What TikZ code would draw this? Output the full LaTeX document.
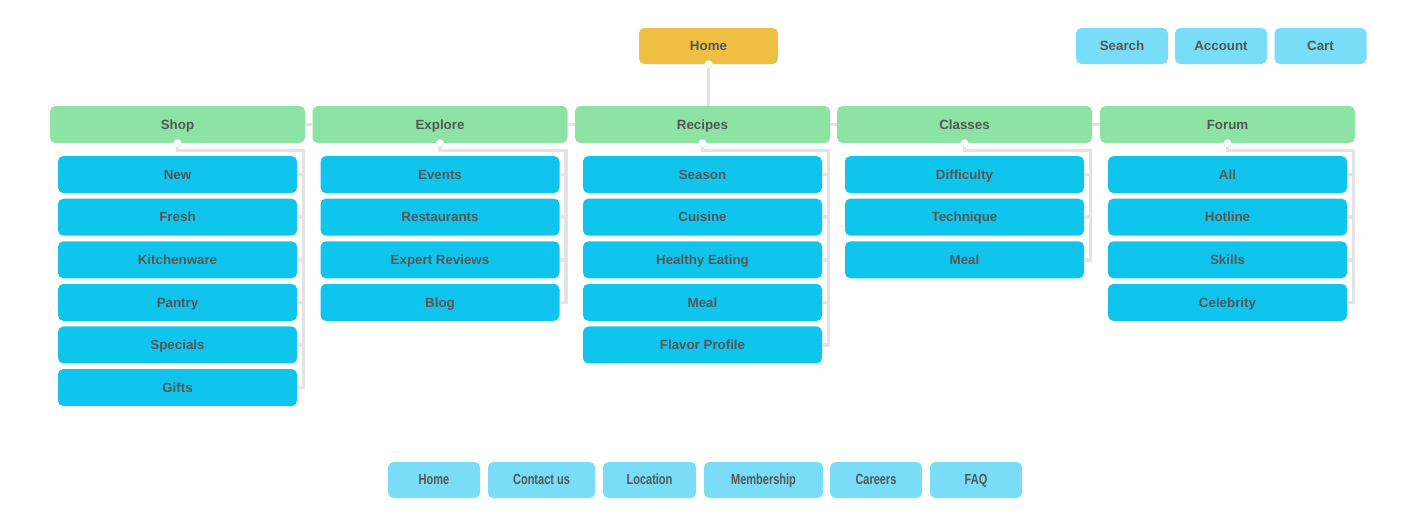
\documentclass[tikz,border=0pt]{standalone}
\usepackage{fontspec}
\setmainfont{Liberation Sans}
\newfontfamily\narrowsans[FakeStretch=0.75]{Liberation Sans}
\usepackage{xcolor}
\usepackage{tikz}
\usetikzlibrary{positioning}
\definecolor{homegold}{HTML}{EEBF42}
\definecolor{utilblue}{HTML}{7ADDF8}
\definecolor{catgreen}{HTML}{8DE3A3}
\definecolor{subcyan}{HTML}{10C5ED}
\definecolor{linegray}{HTML}{E3E3E3}
\definecolor{textgray}{HTML}{555555}

\begin{document}
\begin{tikzpicture}[
        x=0.75pt, y=-0.75pt,
        node distance=3.8pt,
        base/.style={
            rectangle,
            rounded corners=4pt,
            text=textgray,
            font=\fontsize{10}{12}\selectfont\bfseries,
            inner sep=0pt,
            text height=7.6pt,
            text depth=0.4pt,
            minimum height=27.75pt
        },
        homebox/.style={base, fill=homegold, minimum width=104.25pt, minimum height=27pt},
        utilbox/.style={base, fill=utilblue, minimum width=69pt, minimum height=27pt},
        footbox/.style={utilbox, font=\narrowsans\fontsize{11}{13}\selectfont\bfseries},
        catbox/.style={base, fill=catgreen, minimum width=191.25pt},
        subbox/.style={base, fill=subcyan, minimum width=179.25pt},
        link/.style={
            draw=linegray,
            line width=2.6pt
        },
        port/.style={
            circle,
            fill=white,
            draw=linegray,
            line width=0.4pt,
            inner sep=0pt,
            minimum size=6pt
        }
    ]
        \useasboundingbox (0,0) rectangle (1416,526);

        % Top row
        \node[homebox] (home) at (708.5,46) {Home};
        \node[utilbox] (search) at (1122,46) {Search};
        \node[utilbox] (account) at (1221,46) {Account};
        \node[utilbox] (cart) at (1320.5,46) {Cart};

        % Categories
        \node[catbox] (shop) at (177.5,124.5) {Shop};
        \node[catbox] (explore) at (440,124.5) {Explore};
        \node[catbox] (recipes) at (702.5,124.5) {Recipes};
        \node[catbox] (classes) at (964.5,124.5) {Classes};
        \node[catbox] (forum) at (1227.5,124.5) {Forum};

        % Shop
        \node[subbox, below=9.4pt of shop] (shop1) {New};
        \node[subbox, below=of shop1] (shop2) {Fresh};
        \node[subbox, below=of shop2] (shop3) {Kitchenware};
        \node[subbox, below=of shop3] (shop4) {Pantry};
        \node[subbox, below=of shop4] (shop5) {Specials};
        \node[subbox, below=of shop5] (shop6) {Gifts};

        % Explore
        \node[subbox, below=9.4pt of explore] (expl1) {Events};
        \node[subbox, below=of expl1] (expl2) {Restaurants};
        \node[subbox, below=of expl2] (expl3) {Expert Reviews};
        \node[subbox, below=of expl3] (expl4) {Blog};

        % Recipes
        \node[subbox, below=9.4pt of recipes] (reci1) {Season};
        \node[subbox, below=of reci1] (reci2) {Cuisine};
        \node[subbox, below=of reci2] (reci3) {Healthy Eating};
        \node[subbox, below=of reci3] (reci4) {Meal};
        \node[subbox, below=of reci4] (reci5) {Flavor Profile};

        % Classes
        \node[subbox, below=9.4pt of classes] (clas1) {Difficulty};
        \node[subbox, below=of clas1] (clas2) {Technique};
        \node[subbox, below=of clas2] (clas3) {Meal};

        % Forum
        \node[subbox, below=9.4pt of forum] (foru1) {All};
        \node[subbox, below=of foru1] (foru2) {Hotline};
        \node[subbox, below=of foru2] (foru3) {Skills};
        \node[subbox, below=of foru3] (foru4) {Celebrity};

        % Footer
        \node[footbox] (fhome) at (434,480) {Home};
        \node[footbox, minimum width=80.25pt] (fcontact) at (541.5,480) {Contact us};
        \node[footbox, minimum width=69.75pt] (flocation) at (649.5,480) {Location};
        \node[footbox, minimum width=89.25pt] (fmember) at (763.5,480) {Membership};
        \node[footbox] (fcareers) at (876,480) {Careers};
        \node[footbox] (ffaq) at (976,480) {FAQ};

        % Links between levels
        \draw[link] (home.south) -- (home.south |- recipes.north);
        \draw[link] (shop.east) -- (explore.west);
        \draw[link] (explore.east) -- (recipes.west);
        \draw[link] (recipes.east) -- (classes.west);
        \draw[link] (classes.east) -- (forum.west);

        % Rails
        \draw[link] (shop.south) -- ++(0pt,-5.25pt) -| ([xshift=4.5pt]shop6.east) -- (shop6.east);
        \draw[link] (shop1.east) -- ++(4.5pt,0pt);
        \draw[link] (shop2.east) -- ++(4.5pt,0pt);
        \draw[link] (shop3.east) -- ++(4.5pt,0pt);
        \draw[link] (shop4.east) -- ++(4.5pt,0pt);
        \draw[link] (shop5.east) -- ++(4.5pt,0pt);

        \draw[link] (explore.south) -- ++(0pt,-5.25pt) -| ([xshift=4.5pt]expl4.east) -- (expl4.east);
        \draw[link] (expl1.east) -- ++(4.5pt,0pt);
        \draw[link] (expl2.east) -- ++(4.5pt,0pt);
        \draw[link] (expl3.east) -- ++(4.5pt,0pt);

        \draw[link] (recipes.south) -- ++(0pt,-5.25pt) -| ([xshift=4.5pt]reci5.east) -- (reci5.east);
        \draw[link] (reci1.east) -- ++(4.5pt,0pt);
        \draw[link] (reci2.east) -- ++(4.5pt,0pt);
        \draw[link] (reci3.east) -- ++(4.5pt,0pt);
        \draw[link] (reci4.east) -- ++(4.5pt,0pt);

        \draw[link] (classes.south) -- ++(0pt,-5.25pt) -| ([xshift=4.5pt]clas3.east) -- (clas3.east);
        \draw[link] (clas1.east) -- ++(4.5pt,0pt);
        \draw[link] (clas2.east) -- ++(4.5pt,0pt);

        \draw[link] (forum.south) -- ++(0pt,-5.25pt) -| ([xshift=4.5pt]foru4.east) -- (foru4.east);
        \draw[link] (foru1.east) -- ++(4.5pt,0pt);
        \draw[link] (foru2.east) -- ++(4.5pt,0pt);
        \draw[link] (foru3.east) -- ++(4.5pt,0pt);

        % Ports
        \node[port] (phome) at (home.south) {};
        \node[port] (pshop) at (shop.south) {};
        \node[port] (pexplore) at (explore.south) {};
        \node[port] (precipes) at (recipes.south) {};
        \node[port] (pclasses) at (classes.south) {};
        \node[port] (pforum) at (forum.south) {};
    \end{tikzpicture}
\end{document}
